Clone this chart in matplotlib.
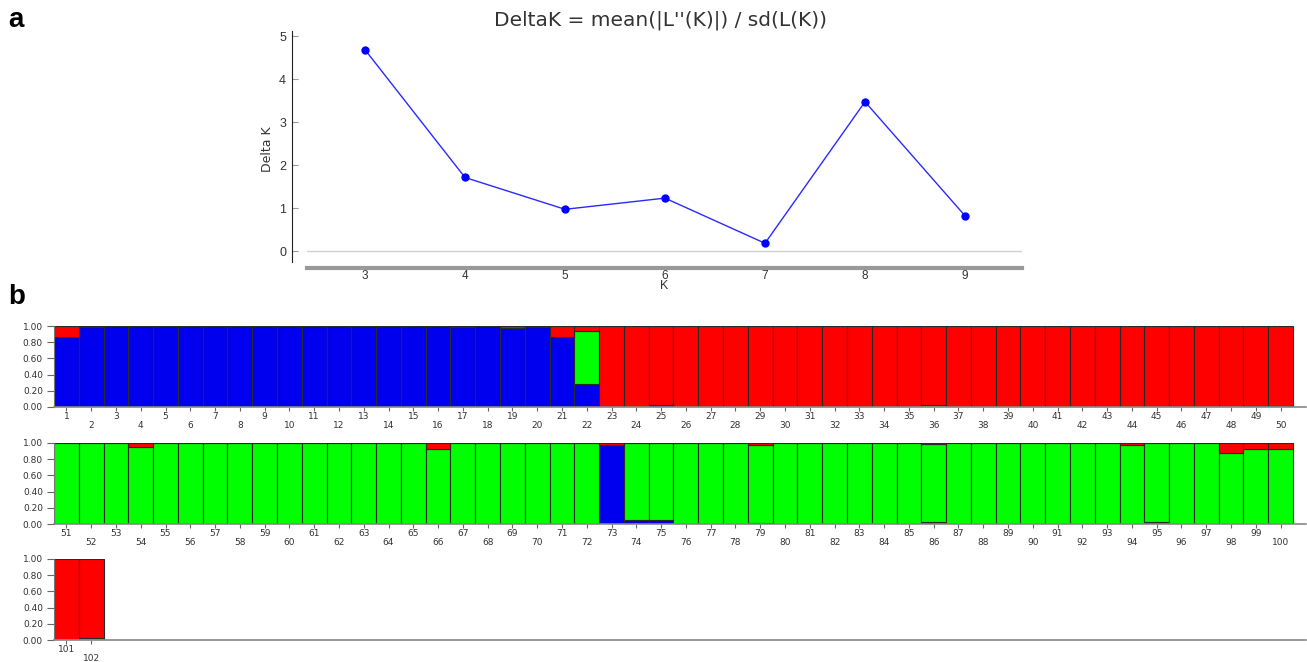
import matplotlib.pyplot as plt

plt.rcParams['font.family'] = ['Liberation Sans', 'DejaVu Sans']

# Delta K (Evanno) for each K
k_values = [3, 4, 5, 6, 7, 8, 9]
delta_k = [4.68, 1.71, 0.97, 1.23, 0.18, 3.47, 0.82]

# membership coefficients (Q) for the 102 individuals, K = 3
q_blue = [
    0.86, 0.99, 1.00, 1.00, 1.00, 1.00, 1.00, 1.00, 1.00, 1.00,
    1.00, 1.00, 1.00, 1.00, 1.00, 1.00, 0.99, 1.00, 0.98, 0.99,
    0.86, 0.29, 0.00, 0.00, 0.02, 0.005, 0.00, 0.00, 0.00, 0.00,
    0.00, 0.00, 0.00, 0.00, 0.00, 0.00, 0.00, 0.00, 0.00, 0.00,
    0.00, 0.00, 0.00, 0.00, 0.00, 0.00, 0.00, 0.00, 0.00, 0.00,
    0.00, 0.00, 0.00, 0.00, 0.00, 0.00, 0.00, 0.00, 0.00, 0.00,
    0.00, 0.00, 0.00, 0.00, 0.00, 0.00, 0.00, 0.00, 0.00, 0.00,
    0.00, 0.00, 0.98, 0.05, 0.05, 0.00, 0.00, 0.00, 0.01, 0.00,
    0.00, 0.00, 0.00, 0.00, 0.00, 0.02, 0.00, 0.00, 0.00, 0.00,
    0.00, 0.00, 0.00, 0.00, 0.03, 0.00, 0.00, 0.00, 0.00, 0.00,
    0.00, 0.00,
]
q_green = [
    0.00, 0.00, 0.00, 0.00, 0.00, 0.00, 0.00, 0.00, 0.00, 0.00,
    0.00, 0.00, 0.00, 0.00, 0.00, 0.00, 0.00, 0.00, 0.00, 0.00,
    0.00, 0.65, 0.00, 0.00, 0.00, 0.00, 0.00, 0.00, 0.00, 0.00,
    0.00, 0.00, 0.00, 0.00, 0.00, 0.02, 0.00, 0.00, 0.00, 0.00,
    0.00, 0.00, 0.00, 0.00, 0.00, 0.00, 0.00, 0.00, 0.01, 0.015,
    1.00, 1.00, 1.00, 0.95, 1.00, 1.00, 1.00, 1.00, 1.00, 1.00,
    1.00, 1.00, 1.00, 1.00, 1.00, 0.93, 1.00, 1.00, 1.00, 1.00,
    1.00, 1.00, 0.00, 0.95, 0.95, 1.00, 1.00, 1.00, 0.96, 1.00,
    1.00, 1.00, 1.00, 1.00, 1.00, 0.97, 1.00, 1.00, 1.00, 1.00,
    1.00, 1.00, 1.00, 0.98, 0.97, 1.00, 1.00, 0.88, 0.93, 0.92,
    0.00, 0.03,
]
q_red = [
    0.14, 0.01, 0.00, 0.00, 0.00, 0.00, 0.00, 0.00, 0.00, 0.00,
    0.00, 0.00, 0.00, 0.00, 0.00, 0.00, 0.01, 0.00, 0.02, 0.01,
    0.14, 0.06, 1.00, 1.00, 0.98, 0.995, 1.00, 1.00, 1.00, 1.00,
    1.00, 1.00, 1.00, 1.00, 1.00, 0.98, 1.00, 1.00, 1.00, 1.00,
    1.00, 1.00, 1.00, 1.00, 1.00, 1.00, 1.00, 1.00, 0.99, 0.985,
    0.00, 0.00, 0.00, 0.05, 0.00, 0.00, 0.00, 0.00, 0.00, 0.00,
    0.00, 0.00, 0.00, 0.00, 0.00, 0.07, 0.00, 0.00, 0.00, 0.00,
    0.00, 0.00, 0.02, 0.00, 0.00, 0.00, 0.00, 0.00, 0.03, 0.00,
    0.00, 0.00, 0.00, 0.00, 0.00, 0.01, 0.00, 0.00, 0.00, 0.00,
    0.00, 0.00, 0.00, 0.02, 0.00, 0.00, 0.00, 0.12, 0.07, 0.08,
    1.00, 0.97,
]
y_ticks_q = [0.0, 0.2, 0.4, 0.6, 0.8, 1.0]

W, H = 1307, 662
fig = plt.figure(figsize=(W / 100, H / 100), dpi=100)

# ---- a: Delta K curve ----
y_px0, y_scale = 251, 43.0      # pixel row of y=0 and pixels per unit
ylo, yhi = -0.395, 5.15
top_px = y_px0 - yhi * y_scale
ax = fig.add_axes([307 / W, 1 - 268 / H, 715 / W, (268 - top_px) / H])
ax.set_xlim(2.42, 9.57)
ax.set_ylim(ylo, yhi)
ax.axhline(0, color='#d0d0d0', lw=1, zorder=1)
ax.plot(k_values, delta_k, color='#2a2aff', lw=1, marker='o', ms=5,
        markerfacecolor='#0000ff', markeredgecolor='#0000ff', zorder=3)
ax.spines['top'].set_visible(False)
ax.spines['right'].set_visible(False)
ax.spines['left'].set_position(('outward', 11))
ax.spines['left'].set_bounds(-0.26, 5.12)
ax.spines['left'].set_color('#222222')
ax.spines['bottom'].set_color('#999999')
ax.spines['bottom'].set_linewidth(3)
ax.set_xticks(k_values)
ax.set_yticks([0, 1, 2, 3, 4, 5])
ax.tick_params(axis='y', direction='in', length=4, color='#999999',
               labelsize=9, labelcolor='#333333', pad=4)
ax.tick_params(axis='x', length=0, labelsize=8.5, labelcolor='#333333',
               pad=1.5)
ax.set_xlabel('K', fontsize=9, color='#333333', labelpad=-1.5)
ax.set_ylabel('Delta K', fontsize=9, color='#333333', labelpad=4,
              family=['Liberation Sans Narrow', 'DejaVu Sans'])
fig.text(661 / W, 1 - 20 / H, "DeltaK = mean(|L''(K)|) / sd(L(K))",
         ha='center', va='center', fontsize=14.5, color='#333333',
         family=['DejaVu Sans'])

fig.text(8 / W, 1 - 20 / H, 'a', fontsize=20, fontweight='bold',
         ha='left', va='center')
fig.text(8 / W, 1 - 297 / H, 'b', fontsize=20, fontweight='bold',
         ha='left', va='center')

# ---- b: STRUCTURE bar plot, 50 individuals per row ----
rows = [(0, 50, 407), (50, 100, 524), (100, 102, 640)]
bar_w_px = (1293 - 54) / 50
for start, stop, base_px in rows:
    bx = fig.add_axes([54 / W, 1 - base_px / H, (1306 - 54) / W, 81 / H])
    xs = list(range(1, stop - start + 1))
    b = q_blue[start:stop]
    g = q_green[start:stop]
    r = q_red[start:stop]
    g_bottom = b
    r_bottom = [bi + gi for bi, gi in zip(b, g)]
    kw = dict(width=1.0, edgecolor='#2a2a2a', linewidth=0.8)
    bx.bar(xs, b, color='#0000ee', **kw)
    bx.bar(xs, g, bottom=g_bottom, color='#00ff00', **kw)
    bx.bar(xs, r, bottom=r_bottom, color='#ff0000', **kw)
    bx.set_xlim(0.5, 0.5 + (1306 - 54) / bar_w_px)
    bx.set_ylim(0, 1.0)
    for side in ('top', 'right'):
        bx.spines[side].set_visible(False)
    bx.spines['left'].set_color('#777777')
    bx.spines['bottom'].set_color('#888888')
    bx.spines['bottom'].set_linewidth(1.2)
    bx.set_yticks(y_ticks_q)
    bx.set_yticklabels(['%.2f' % v for v in y_ticks_q],
                       family=['DejaVu Sans'])
    labels = []
    for i in xs:
        n = start + i
        labels.append(str(n) if i % 2 == 1 else '\n' + str(n))
    bx.set_xticks(xs)
    bx.set_xticklabels(labels, linespacing=0.95, family=['DejaVu Sans'])
    bx.tick_params(axis='y', length=5, color='#666666', labelsize=6.5,
                   labelcolor='#333333', pad=3)
    bx.tick_params(axis='x', length=3, color='#666666', labelsize=6.5,
                   labelcolor='#333333', pad=0.5)

fig.savefig('out.png', dpi=100)
